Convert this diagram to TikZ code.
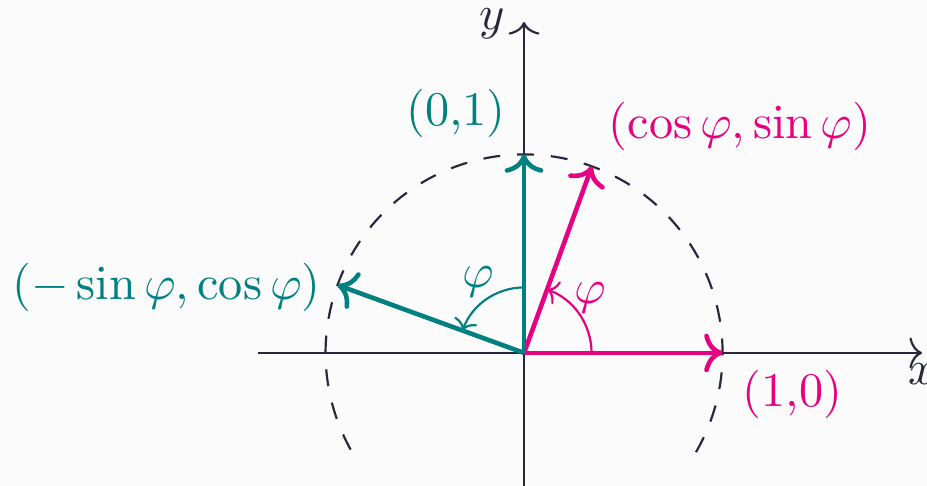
\documentclass[tikz,border=0pt]{standalone}
\usetikzlibrary{arrows.meta}
\definecolor{bgcol}{RGB}{251,251,252}
\definecolor{axcol}{RGB}{40,40,60}
\definecolor{tealcol}{RGB}{0,128,128}
\definecolor{pinkcol}{RGB}{230,0,130}
\begin{document}
\begin{tikzpicture}[x=1.444cm,y=1.444cm,
  ax/.style={axcol,line width=.45pt,-{Computer Modern Rightarrow[length=2.6pt,width=6.4pt]}},
  vec/.style={line width=.95pt,-{Computer Modern Rightarrow[length=3.8pt,width=8pt]}},
  angarc/.style={line width=.45pt,-{Computer Modern Rightarrow[length=2.2pt,width=5pt]}}]
\path[fill=bgcol] (-2.64,-.67) rectangle (2.03,1.778);
\useasboundingbox (-2.64,-.67) rectangle (2.03,1.778);
\coordinate (O) at (0,0);
\coordinate (xs) at (-1.34,0);
\coordinate (xe) at (2.005,0);
\coordinate (ys) at (0,-.7);
\coordinate (ye) at (0,1.667);
\coordinate (E1) at (1,0);
\coordinate (E2) at (0,1);
\coordinate (P) at (70:1);
\coordinate (Q) at (160:1);
\draw[ax] (xs) -- (xe);
\draw[ax] (ys) -- (ye);
\node[anchor=north,axcol,inner sep=2pt] (xl) at (xe) {$x$};
\node[axcol,inner sep=0pt] (yl) at (-.16,1.66) {$y$};
\draw[axcol,line width=.45pt,dash pattern=on 3.5pt off 3.5pt] (-30:1) arc[start angle=-30,end angle=210,radius=1];
\draw[vec,pinkcol] (O) -- (E1);
\draw[vec,pinkcol] (O) -- (P);
\draw[vec,tealcol] (O) -- (E2);
\draw[vec,tealcol] (O) -- (Q);
\draw[angarc,pinkcol] (.34,0) arc[start angle=0,end angle=70,radius=.34];
\draw[angarc,tealcol] (0,.33) arc[start angle=90,end angle=160,radius=.33];
\node[pinkcol] (phip) at (.332,.277) {$\varphi$};
\node[tealcol] (phit) at (-.232,.358) {$\varphi$};
\node[pinkcol] (lE1) at (1.353,-.207) {(1,0)};
\node[tealcol] (lE2) at (-.343,1.209) {(0,1)};
\node[pinkcol] (lP) at (1.088,1.139) {$(\cos\varphi,\sin\varphi)$};
\node[tealcol] (lQ) at (-1.801,.332) {$(-\sin\varphi,\cos\varphi)$};
\end{tikzpicture}
\end{document}
